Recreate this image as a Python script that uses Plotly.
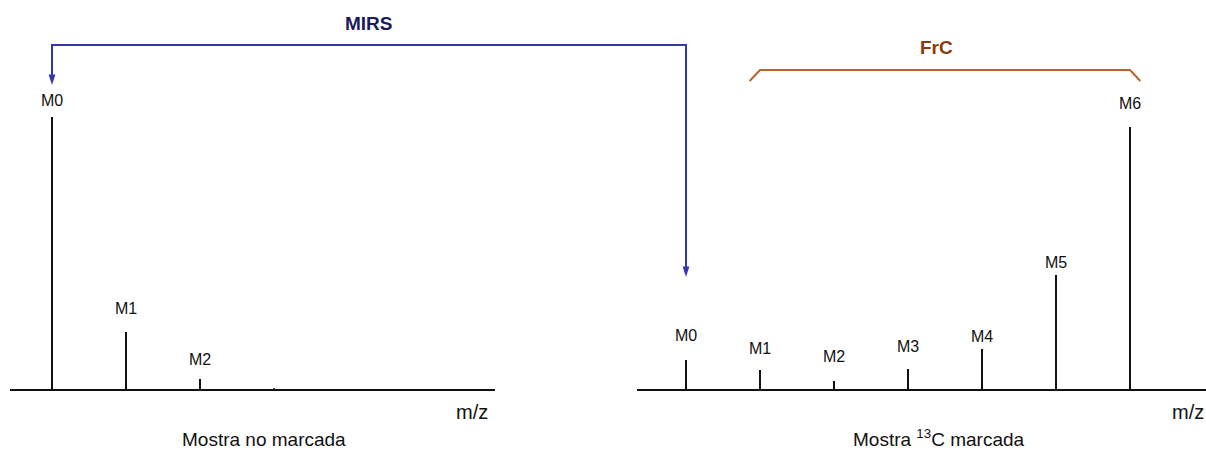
import plotly.graph_objects as go

# ---------------- data ----------------
left_labels = ["M0", "M1", "M2", ""]
left_mass = [0, 1, 2, 3]
left_intensity = [100.0, 21.2, 4.0, 0.6]

right_labels = ["M0", "M1", "M2", "M3", "M4", "M5", "M6"]
right_mass = [0, 1, 2, 3, 4, 5, 6]
right_intensity = [11.0, 7.3, 3.3, 7.7, 15.0, 42.1, 96.3]

axis_title = "m/z"
left_caption = "Mostra no marcada"
right_caption = "Mostra <sup>13</sup>C marcada"
mirs_text = "MIRS"
frc_text = "FrC"

# ---------------- style ----------------
FONT = "Liberation Sans, Arial, sans-serif"
BLACK = "#111111"
BLUE = "#3636B0"
BLUE_TXT = "#1C1C5A"
BROWN = "#C0602C"
BROWN_TXT = "#8B3A0F"

left_gap = [17, 24, 20, 0]
right_gap = [24, 22, 24, 22, 13, 13, 24]

Y_RANGE = [-21.98, 142.86]
X1_RANGE = [-0.7027, 7.446]
X2_RANGE = [-1.1216, 7.027]
MIRS_Y = 126.4
LEFT_TIP = 111.7
RIGHT_TIP = 41.4
FRC_Y = 117.2
FRC_END_Y = 113.2


def sticks(xs, ys):
    px, py = [], []
    for x, y in zip(xs, ys):
        px += [x, x, None]
        py += [0, y, None]
    return px, py


fig = go.Figure()
lx, ly = sticks(left_mass, left_intensity)
rx, ry = sticks(right_mass, right_intensity)
fig.add_trace(go.Scatter(x=lx, y=ly, mode="lines", xaxis="x", yaxis="y",
                         line=dict(color=BLACK, width=2), hoverinfo="skip",
                         showlegend=False))
fig.add_trace(go.Scatter(x=rx, y=ry, mode="lines", xaxis="x2", yaxis="y",
                         line=dict(color=BLACK, width=2), hoverinfo="skip",
                         showlegend=False))

# MIRS arrowheads
arrow_marker = dict(symbol="arrow", angle=180, size=11, color=BLUE,
                    line=dict(width=0))
fig.add_trace(go.Scatter(x=[left_mass[0]], y=[LEFT_TIP], mode="markers",
                         xaxis="x", yaxis="y", marker=arrow_marker,
                         hoverinfo="skip", showlegend=False))
fig.add_trace(go.Scatter(x=[right_mass[0]], y=[RIGHT_TIP], mode="markers",
                         xaxis="x2", yaxis="y", marker=arrow_marker,
                         hoverinfo="skip", showlegend=False))

shapes = [
    # baselines
    dict(type="line", xref="x", yref="y", x0=-0.568, x1=5.986, y0=0, y1=0,
         line=dict(color=BLACK, width=2)),
    dict(type="line", xref="x2", yref="y", x0=-0.662, x1=X2_RANGE[1], y0=0, y1=0,
         line=dict(color=BLACK, width=2)),
    # MIRS connector
    dict(type="path", xref="x", yref="y",
         path=f"M {left_mass[0]},{LEFT_TIP + 2} L {left_mass[0]},{MIRS_Y} L {X1_RANGE[1]},{MIRS_Y}",
         line=dict(color=BLUE, width=2)),
    dict(type="path", xref="x2", yref="y",
         path=f"M {X2_RANGE[0]},{MIRS_Y} L {right_mass[0]},{MIRS_Y} L {right_mass[0]},{RIGHT_TIP + 2}",
         line=dict(color=BLUE, width=2)),
    # FrC bracket
    dict(type="path", xref="x2", yref="y",
         path=(f"M {right_mass[1]-0.14},{FRC_END_Y} L {right_mass[1]},{FRC_Y} "
               f"L {right_mass[6]},{FRC_Y} L {right_mass[6]+0.14},{FRC_END_Y}"),
         line=dict(color=BROWN, width=2)),
]

ann = []
lab_font = dict(family=FONT, size=16, color=BLACK)
for m, v, t, g in zip(left_mass, left_intensity, left_labels, left_gap):
    if t:
        ann.append(dict(x=m, y=v, xref="x", yref="y", text=t, showarrow=False,
                        yanchor="middle", yshift=g, font=lab_font))
for m, v, t, g in zip(right_mass, right_intensity, right_labels, right_gap):
    ann.append(dict(x=m, y=v, xref="x2", yref="y", text=t, showarrow=False,
                    yanchor="middle", yshift=g, font=lab_font))

# texts
ann.append(dict(x=369/1206, y=1-23.5/450, xref="paper", yref="paper", text=f"<b>{mirs_text}</b>",
                showarrow=False, xanchor="center", yanchor="middle",
                font=dict(family=FONT, size=19, color=BLUE_TXT)))
ann.append(dict(x=936/1206, y=1-47/450, xref="paper", yref="paper", text=f"<b>{frc_text}</b>",
                showarrow=False, xanchor="center", yanchor="middle",
                font=dict(family=FONT, size=19, color=BROWN_TXT)))
for xc in (471.5, 1188):
    ann.append(dict(x=xc/1206, y=1-412/450, xref="paper", yref="paper", text=axis_title,
                    showarrow=False, xanchor="center", yanchor="middle",
                    font=dict(family=FONT, size=20, color=BLACK)))
ann.append(dict(x=264/1206, y=1-439/450, xref="paper", yref="paper", text=left_caption,
                showarrow=False, xanchor="center", yanchor="middle",
                font=dict(family=FONT, size=19, color=BLACK)))
ann.append(dict(x=939/1206, y=1-438/450, xref="paper", yref="paper", text=right_caption,
                showarrow=False, xanchor="center", yanchor="middle",
                font=dict(family=FONT, size=19, color=BLACK)))

fig.update_layout(
    width=1206, height=450,
    margin=dict(l=0, r=0, t=0, b=0),
    paper_bgcolor="white", plot_bgcolor="white",
    xaxis=dict(domain=[0, 0.5], range=X1_RANGE, visible=False, fixedrange=True),
    xaxis2=dict(domain=[0.5, 1], range=X2_RANGE, visible=False, fixedrange=True, anchor="y"),
    yaxis=dict(domain=[0, 1], range=Y_RANGE, visible=False, fixedrange=True),
    shapes=shapes,
    annotations=ann,
    showlegend=False,
)

fig.write_html("out.html")
